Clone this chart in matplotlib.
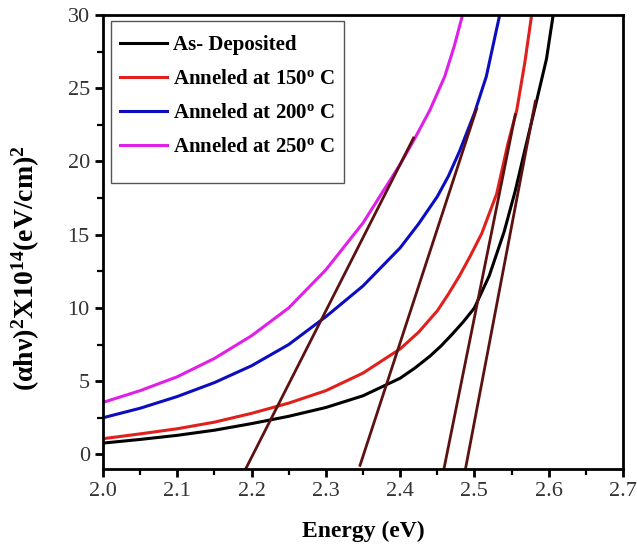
import matplotlib
matplotlib.use("Agg")
import matplotlib.pyplot as plt
from matplotlib.ticker import MultipleLocator
from matplotlib.patches import Rectangle

# fonts - Times like look of the original
plt.rcParams["font.family"] = ["Liberation Serif", "DejaVu Serif"]
plt.rcParams["mathtext.fontset"] = "custom"
plt.rcParams["mathtext.rm"] = "Liberation Serif:bold"
plt.rcParams["mathtext.bf"] = "Liberation Serif:bold"
plt.rcParams["mathtext.it"] = "Liberation Serif:bold:italic"

# curves: energy (eV) and (alpha h nu)^2 x 10^14
dep_x = [2.00, 2.05, 2.10, 2.15, 2.20, 2.25, 2.30, 2.35, 2.40, 2.42, 2.44,
         2.455, 2.47, 2.485, 2.50, 2.52, 2.54, 2.555, 2.568, 2.584, 2.597, 2.606]
dep_y = [0.77, 1.02, 1.30, 1.65, 2.10, 2.60, 3.20, 4.00, 5.20, 5.90, 6.70,
         7.40, 8.20, 9.05, 10.0, 12.2, 15.2, 18.0, 20.8, 24.2, 27.0, 30.0]

a150_x = [2.00, 2.05, 2.10, 2.15, 2.20, 2.25, 2.30, 2.35, 2.40, 2.425, 2.45,
          2.465, 2.48, 2.495, 2.51, 2.53, 2.545, 2.557, 2.568, 2.577]
a150_y = [1.07, 1.40, 1.75, 2.20, 2.80, 3.50, 4.35, 5.55, 7.20, 8.35, 9.80,
          10.95, 12.2, 13.6, 15.1, 17.8, 21.2, 23.5, 26.8, 30.0]

a200_x = [2.00, 2.05, 2.10, 2.15, 2.20, 2.25, 2.30, 2.35, 2.40, 2.425, 2.45,
          2.465, 2.48, 2.50, 2.516, 2.534]
a200_y = [2.50, 3.15, 3.95, 4.90, 6.05, 7.50, 9.40, 11.5, 14.1, 15.75, 17.6,
          19.0, 20.7, 23.3, 25.8, 30.0]

a250_x = [2.00, 2.05, 2.10, 2.15, 2.20, 2.25, 2.30, 2.35, 2.40, 2.42, 2.44,
          2.46, 2.473, 2.484]
a250_y = [3.55, 4.35, 5.30, 6.55, 8.10, 10.0, 12.6, 15.8, 19.8, 21.6, 23.5,
          25.8, 27.9, 30.0]

# linear fits (Tauc extrapolation), start and end points
fit_x0 = [2.192, 2.346, 2.459, 2.488]
fit_y0 = [-1.0, -0.75, -0.98, -0.98]
fit_x1 = [2.418, 2.503, 2.555, 2.582]
fit_y1 = [21.6, 23.6, 23.2, 24.1]

labels = ["As- Deposited",
          r"Anneled at 150$^{\mathbf{o}}$ C",
          r"Anneled at 200$^{\mathbf{o}}$ C",
          r"Anneled at 250$^{\mathbf{o}}$ C"]
colors = ["#000000", "#e0201c", "#0c0cc0", "#e020e8"]
fit_color = "#5c1010"

fig = plt.figure(figsize=(6.37, 5.54), dpi=100)
ax = fig.add_axes([0.1617, 0.1534, 0.8163, 0.8195])

series = [(dep_x, dep_y), (a150_x, a150_y), (a200_x, a200_y), (a250_x, a250_y)]
for (xs, ys), c, lab in zip(series, colors, labels):
    ax.plot(xs, ys, color=c, lw=2.2, label=lab, solid_joinstyle="round")

for x0, y0, x1, y1 in zip(fit_x0, fit_y0, fit_x1, fit_y1):
    ax.plot([x0, x1], [y0, y1], color=fit_color, lw=2.0)

ax.set_xlim(2.0, 2.7)
ax.set_ylim(-1, 30)
ax.xaxis.set_major_locator(MultipleLocator(0.1))
ax.xaxis.set_minor_locator(MultipleLocator(0.05))
ax.yaxis.set_major_locator(MultipleLocator(5))
ax.yaxis.set_minor_locator(MultipleLocator(2.5))
ax.xaxis.set_major_formatter(plt.FormatStrFormatter("%.1f"))

for sp in ax.spines.values():
    sp.set_linewidth(2)
ax.tick_params(which="major", direction="out", length=6, width=2,
               labelsize=16, labelcolor="#333333", top=False, right=False)
ax.tick_params(which="minor", direction="out", length=4, width=1.6,
               top=False, right=False)

ax.set_xlabel("Energy (eV)", fontsize=17, fontweight="bold", labelpad=14)
ax.set_ylabel(r"(αhν)$^{\mathbf{2}}$X10$^{\mathbf{14}}$(eV/cm)$^{\mathbf{2}}$",
              fontsize=20, fontweight="bold")
ax.yaxis.set_label_coords(-0.117, 0.443)

# legend text without frame, frame box drawn separately (it is taller than the entries)
leg = ax.legend(loc="upper left", bbox_to_anchor=(0.0048, 0.987), borderaxespad=0,
                frameon=False, handlelength=2.25, handletextpad=0.3,
                labelspacing=0.67, borderpad=0.7,
                prop={"family": "Liberation Serif", "weight": "bold", "size": 15})
for h in leg.legend_handles:
    h.set_linewidth(2.2)
ax.add_patch(Rectangle((0.0154, 0.630), 0.448, 0.357, transform=ax.transAxes,
                       fill=False, edgecolor="#555555", lw=1.0, zorder=5))

plt.savefig("out.png", dpi=100)
